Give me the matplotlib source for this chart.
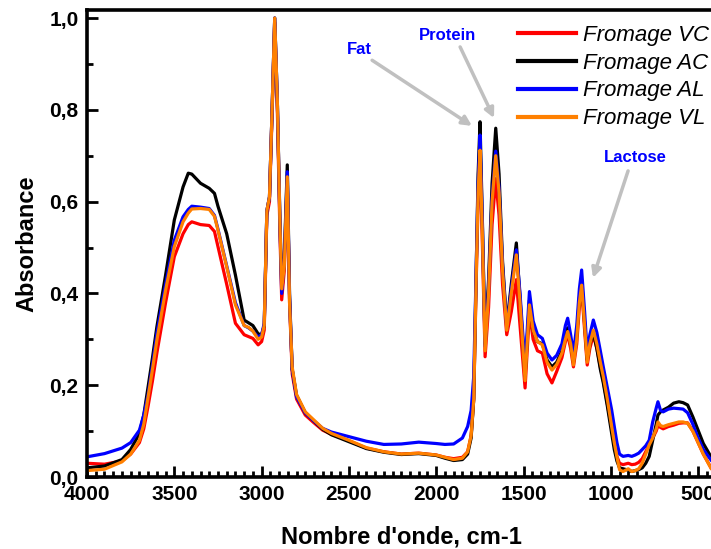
import matplotlib
matplotlib.use('Agg', force=True)

import matplotlib.pyplot as plt
from matplotlib.ticker import MultipleLocator, FuncFormatter

# ---------- fonts ----------
plt.rcParams['font.family'] = ['Liberation Sans', 'DejaVu Sans']

# ---------- data ----------
wavenumber = [4000, 3900, 3800, 3750, 3700, 3675, 3650, 3625, 3600, 3550,
              3500, 3450, 3420, 3400, 3350, 3300, 3270, 3250, 3200, 3150,
              3100, 3075, 3050, 3020, 3000, 2985, 2970, 2955, 2940, 2925,
              2910, 2895, 2885, 2870, 2853, 2840, 2825, 2800, 2750, 2700,
              2650, 2600, 2500, 2400, 2300, 2200, 2100, 2000, 1950, 1900,
              1850, 1820, 1800, 1785, 1770, 1760, 1749, 1735, 1720, 1700,
              1680, 1659, 1640, 1620, 1596, 1570, 1541, 1520, 1491, 1466,
              1445, 1420, 1392, 1365, 1337, 1310, 1280, 1260, 1247, 1230,
              1214, 1195, 1180, 1167, 1150, 1135, 1120, 1100, 1080, 1060,
              1043, 1020, 995, 980, 965, 950, 930, 900, 880, 860,
              840, 820, 800, 780, 760, 740, 730, 715, 700, 670,
              640, 610, 586, 560, 530, 500, 470, 426]

fromage_vc = [0.030, 0.028, 0.035, 0.050, 0.075, 0.105, 0.155, 0.210, 0.270, 0.380,
              0.480, 0.530, 0.550, 0.556, 0.550, 0.548, 0.535, 0.502, 0.420, 0.335,
              0.310, 0.306, 0.302, 0.288, 0.295, 0.320, 0.570, 0.600, 0.790, 0.990,
              0.800, 0.530, 0.386, 0.450, 0.650, 0.380, 0.225, 0.170, 0.135, 0.118,
              0.102, 0.093, 0.079, 0.063, 0.055, 0.050, 0.052, 0.048, 0.043, 0.040,
              0.043, 0.055, 0.090, 0.170, 0.440, 0.600, 0.700, 0.500, 0.262, 0.370,
              0.550, 0.650, 0.570, 0.420, 0.310, 0.360, 0.430, 0.330, 0.194, 0.360,
              0.300, 0.275, 0.270, 0.225, 0.205, 0.230, 0.260, 0.295, 0.310, 0.280,
              0.240, 0.290, 0.370, 0.410, 0.320, 0.244, 0.280, 0.310, 0.280, 0.240,
              0.210, 0.160, 0.105, 0.070, 0.045, 0.030, 0.027, 0.030, 0.027, 0.028,
              0.032, 0.040, 0.055, 0.070, 0.085, 0.100, 0.112, 0.108, 0.105, 0.110,
              0.113, 0.117, 0.118, 0.118, 0.100, 0.075, 0.050, 0.020]

fromage_ac = [0.020, 0.024, 0.038, 0.060, 0.095, 0.135, 0.197, 0.260, 0.327, 0.440,
              0.560, 0.632, 0.662, 0.660, 0.640, 0.629, 0.618, 0.590, 0.530, 0.440,
              0.342, 0.336, 0.330, 0.312, 0.310, 0.330, 0.580, 0.610, 0.800, 1.000,
              0.820, 0.560, 0.420, 0.480, 0.680, 0.400, 0.235, 0.178, 0.140, 0.122,
              0.104, 0.092, 0.077, 0.062, 0.054, 0.049, 0.051, 0.047, 0.041, 0.036,
              0.038, 0.050, 0.085, 0.170, 0.470, 0.660, 0.774, 0.550, 0.290, 0.430,
              0.640, 0.760, 0.660, 0.470, 0.330, 0.420, 0.510, 0.390, 0.220, 0.385,
              0.320, 0.295, 0.290, 0.255, 0.240, 0.250, 0.275, 0.310, 0.325, 0.295,
              0.250, 0.310, 0.390, 0.430, 0.335, 0.255, 0.290, 0.315, 0.280, 0.235,
              0.205, 0.155, 0.095, 0.060, 0.035, 0.020, 0.018, 0.015, 0.012, 0.014,
              0.016, 0.020, 0.030, 0.045, 0.080, 0.115, 0.135, 0.142, 0.146, 0.152,
              0.161, 0.164, 0.162, 0.157, 0.131, 0.102, 0.073, 0.044]

fromage_al = [0.044, 0.051, 0.063, 0.075, 0.102, 0.135, 0.180, 0.245, 0.313, 0.420,
              0.516, 0.567, 0.583, 0.590, 0.588, 0.585, 0.570, 0.540, 0.460, 0.380,
              0.330, 0.325, 0.318, 0.305, 0.310, 0.335, 0.580, 0.610, 0.800, 1.000,
              0.820, 0.550, 0.400, 0.470, 0.665, 0.390, 0.235, 0.175, 0.140, 0.122,
              0.106, 0.098, 0.088, 0.078, 0.071, 0.072, 0.076, 0.073, 0.071, 0.072,
              0.085, 0.110, 0.145, 0.220, 0.470, 0.640, 0.745, 0.540, 0.285, 0.410,
              0.610, 0.710, 0.630, 0.460, 0.325, 0.410, 0.495, 0.400, 0.240, 0.404,
              0.340, 0.310, 0.302, 0.270, 0.255, 0.265, 0.290, 0.330, 0.346, 0.310,
              0.270, 0.330, 0.410, 0.451, 0.360, 0.270, 0.310, 0.342, 0.315, 0.275,
              0.240, 0.195, 0.146, 0.110, 0.075, 0.050, 0.045, 0.047, 0.045, 0.048,
              0.052, 0.060, 0.068, 0.080, 0.120, 0.150, 0.164, 0.145, 0.142, 0.148,
              0.150, 0.149, 0.148, 0.140, 0.115, 0.085, 0.060, 0.037]

fromage_vl = [0.014, 0.017, 0.033, 0.050, 0.080, 0.115, 0.175, 0.235, 0.298, 0.407,
              0.502, 0.556, 0.575, 0.584, 0.585, 0.583, 0.568, 0.538, 0.458, 0.375,
              0.330, 0.326, 0.318, 0.300, 0.305, 0.330, 0.580, 0.610, 0.800, 1.000,
              0.820, 0.550, 0.410, 0.460, 0.654, 0.380, 0.240, 0.180, 0.142, 0.124,
              0.106, 0.095, 0.080, 0.064, 0.055, 0.050, 0.052, 0.048, 0.043, 0.038,
              0.041, 0.055, 0.090, 0.170, 0.450, 0.620, 0.712, 0.520, 0.275, 0.400,
              0.600, 0.700, 0.620, 0.450, 0.320, 0.400, 0.484, 0.380, 0.210, 0.375,
              0.320, 0.295, 0.288, 0.250, 0.233, 0.245, 0.270, 0.300, 0.317, 0.290,
              0.244, 0.300, 0.380, 0.418, 0.330, 0.250, 0.290, 0.320, 0.290, 0.250,
              0.219, 0.170, 0.110, 0.075, 0.044, 0.016, 0.012, 0.018, 0.012, 0.014,
              0.018, 0.030, 0.050, 0.070, 0.085, 0.105, 0.120, 0.112, 0.110, 0.114,
              0.117, 0.120, 0.120, 0.117, 0.100, 0.075, 0.050, 0.019]

series = [('Fromage VC', fromage_vc, '#ff0000'),
          ('Fromage AC', fromage_ac, '#000000'),
          ('Fromage AL', fromage_al, '#0000ff'),
          ('Fromage VL', fromage_vl, '#ff8000')]

# ---------- figure ----------
fig = plt.figure(figsize=(7.11, 5.49), dpi=100)
# right edge of the axes runs past the canvas, like the reference
ax = fig.add_axes([0.1224, 0.1311, 0.884, 0.8506])

for name, vals, col in series:
    ax.plot(wavenumber, vals, color=col, lw=2.3, label=name)

ax.set_xlim(4000, 400)
ax.set_ylim(0, 1.0174)

ax.xaxis.set_major_locator(MultipleLocator(500))
ax.xaxis.set_minor_locator(MultipleLocator(50))
ax.yaxis.set_major_locator(MultipleLocator(0.2))
ax.yaxis.set_minor_locator(MultipleLocator(0.1))
ax.yaxis.set_major_formatter(FuncFormatter(lambda v, p: f"{v:.1f}".replace('.', ',')))

ax.tick_params(which='both', direction='in', top=False, right=False, width=2)
ax.tick_params(which='major', length=8, labelsize=15, pad=6)
ax.tick_params(which='minor', length=4.5)
for lab in ax.get_xticklabels() + ax.get_yticklabels():
    lab.set_fontweight('bold')

for s in ax.spines.values():
    s.set_linewidth(2.6)

ax.set_xlabel("Nombre d'onde, cm-1", fontsize=17, fontweight='bold', labelpad=15)
ax.set_ylabel("Absorbance", fontsize=17, fontweight='bold', labelpad=8)

# ---------- legend ----------
leg = ax.legend(loc='upper right', bbox_to_anchor=(0.997, 0.955),
                bbox_transform=fig.transFigure, frameon=False,
                prop={'style': 'italic', 'size': 16},
                handlelength=2.6, handletextpad=0.3, labelspacing=0.31,
                borderpad=0, borderaxespad=0)
for line in leg.get_lines():
    line.set_linewidth(3)

# ---------- annotations ----------
arrow_kw = dict(arrowstyle='-|>', color='#c0c0c0', lw=2.5,
                mutation_scale=14, shrinkA=0, shrinkB=0)

ax.text(2440, 0.932, 'Fat', color='#0000ff', fontsize=12, fontweight='bold',
        ha='center', va='center')
ax.annotate('', xy=(1795, 0.765), xytext=(2367, 0.908), arrowprops=arrow_kw)

ax.text(1938, 0.963, 'Protein', color='#0000ff', fontsize=12, fontweight='bold',
        ha='center', va='center')
ax.annotate('', xy=(1669, 0.782), xytext=(1863, 0.937), arrowprops=arrow_kw)

ax.text(861, 0.697, 'Lactose', color='#0000ff', fontsize=12, fontweight='bold',
        ha='center', va='center')
ax.annotate('', xy=(1102, 0.434), xytext=(901, 0.667), arrowprops=arrow_kw)

fig.savefig('out.png', dpi=100)
